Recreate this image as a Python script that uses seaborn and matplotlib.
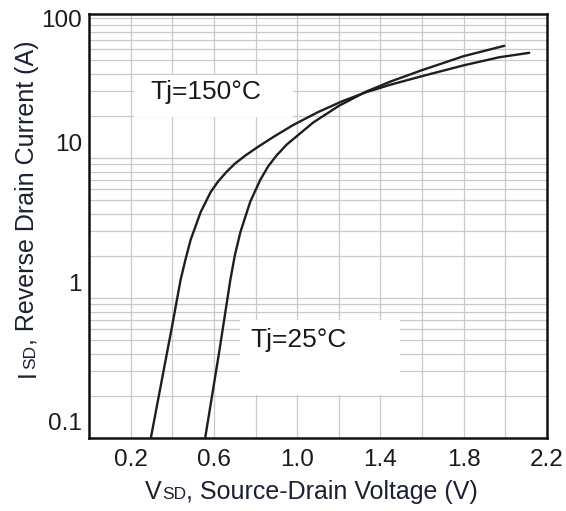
import numpy as np
import pandas as pd
import matplotlib
matplotlib.use("Agg")
import matplotlib.pyplot as plt
import matplotlib.transforms as mtrans
from matplotlib.patches import Rectangle
from matplotlib.ticker import FixedLocator, LogLocator, NullFormatter
import seaborn as sns

# ---- data ----
v_150 = [0.297, 0.368, 0.40, 0.44, 0.464, 0.488, 0.536, 0.584, 0.62, 0.66, 0.70, 0.75, 0.807,
         0.887, 0.98, 1.10, 1.22, 1.33, 1.45, 1.60, 1.80, 1.97, 2.115]
i_150 = [0.10, 0.36, 0.64, 1.35, 1.9, 2.6, 4.1, 5.7, 6.8, 7.95, 9.1, 10.4, 11.9,
         14.2, 17.2, 21.3, 25.6, 29.5, 33.5, 38.5, 46.0, 52.5, 56.5]
v_25 = [0.558, 0.624, 0.679, 0.70, 0.727, 0.775, 0.823, 0.86, 0.90, 0.95, 1.014, 1.078,
        1.20, 1.33, 1.45, 1.60, 1.80, 1.995]
i_25 = [0.10, 0.40, 1.35, 2.0, 2.95, 4.9, 7.0, 8.7, 10.4, 12.5, 15.0, 18.0,
        23.6, 29.8, 35.3, 42.5, 53.5, 63.4]
series_names = ["Tj=150°C", "Tj=25°C"]
x_major = [0.2, 0.6, 1.0, 1.4, 1.8, 2.2]
x_major_labels = ["0.2", "0.6", "1.0", "1.4", "1.8", "2.2"]
x_minor = [0.4, 0.8, 1.2, 1.6, 2.0]
y_major = [0.1, 1, 10, 100]
y_major_labels = ["0.1", "1", "10", "100"]

df = pd.concat([
    pd.DataFrame({"V": v_150, "I": i_150, "series": series_names[0]}),
    pd.DataFrame({"V": v_25, "I": i_25, "series": series_names[1]}),
], ignore_index=True)

sns.set_theme(style="white")
plt.rcParams['font.family'] = ['Liberation Sans', 'DejaVu Sans']

W, H = 566, 511
fig = plt.figure(figsize=(W / 100, H / 100), dpi=100)
ax = fig.add_axes([89 / W, 1 - 438 / H, (547 - 89) / W, (438 - 14) / H])

line_col = "#1e1e1e"
sns.lineplot(data=df, x="V", y="I", hue="series",
             palette={series_names[0]: line_col, series_names[1]: line_col},
             estimator=None, sort=False, legend=False, lw=1.7, ax=ax, zorder=3)
for ln in ax.get_lines():
    ln.set_solid_joinstyle("round")
    ln.set_solid_capstyle("round")

ax.set_yscale("log")
ax.set_xlim(0, 2.2)
ax.set_ylim(0.1, 107)

ax.xaxis.set_major_locator(FixedLocator(x_major))
ax.xaxis.set_minor_locator(FixedLocator(x_minor))
ax.set_xticklabels(x_major_labels)
ax.yaxis.set_major_locator(FixedLocator(y_major))
ax.yaxis.set_minor_locator(LogLocator(base=10, subs=[2, 3, 4, 5, 6, 7, 8, 9], numticks=20))
ax.yaxis.set_minor_formatter(NullFormatter())
ax.set_yticklabels(y_major_labels)

ax.set_axisbelow(True)
ax.grid(which="both", color="#c9c9c9", lw=0.9)
for s in ax.spines.values():
    s.set_visible(True)
    s.set_color("#111111")
    s.set_linewidth(1.8)

txt_col = "#1a1a1a"
ax.tick_params(which="both", length=0, labelsize=17.5, colors=txt_col)
ax.tick_params(axis="x", pad=8)
ax.tick_params(axis="y", pad=5)
ax.set_xlabel("")
ax.set_ylabel("")

# y tick labels in the reference sit above their grid lines (except the top one)
shift = mtrans.ScaledTranslation(0, 16 / 100, fig.dpi_scale_trans)
for lab in ax.get_yticklabels():
    if lab.get_text() != "100":
        lab.set_transform(lab.get_transform() + shift)

# white boxes behind the annotations (grid hidden there)
ax.add_patch(Rectangle((0.215, 19.6), 0.98 - 0.215, 39.1 - 19.6, facecolor="white",
                       edgecolor="none", zorder=1))
ax.add_patch(Rectangle((0.727, 0.203), 1.493 - 0.727, 0.70 - 0.203, facecolor="white",
                       edgecolor="none", zorder=1))
ax.text(0.56, 29.6, series_names[0], fontsize=19, color=txt_col, ha="center", va="center", zorder=4)
ax.text(1.005, 0.50, series_names[1], fontsize=19, color=txt_col, ha="center", va="center", zorder=4)

# axis labels with small "SD"
lab_col = "#1c2033"
fs_big, fs_small = 18, 12.5
dd = 0.21 * (fs_big - fs_small)

x1 = fig.text(145 / W, 1 - 499 / H, "V", fontsize=fs_big, color=lab_col, ha="left", va="baseline")
x2 = ax.annotate("SD", xy=(1, 0), xycoords=x1, xytext=(0.5, dd), textcoords="offset points",
                 fontsize=fs_small, color=lab_col, ha="left", va="bottom", annotation_clip=False)
x3 = ax.annotate(", Source-Drain Voltage (V)", xy=(1, 0), xycoords=(x2, x1),
                 fontsize=fs_big, color=lab_col, ha="left", va="bottom", annotation_clip=False)

y1 = fig.text(34.5 / W, 1 - 377 / H, "I", fontsize=fs_big, color=lab_col, rotation=90,
              rotation_mode="anchor", ha="left", va="baseline")
y2 = ax.annotate("SD", xy=(1, 1), xycoords=y1, xytext=(-dd, 0.5), textcoords="offset points",
                 fontsize=fs_small, color=lab_col, rotation=90, ha="right", va="bottom",
                 annotation_clip=False)
y3 = ax.annotate(", Reverse Drain Current (A)", xy=(1, 1), xycoords=(y1, y2),
                 fontsize=fs_big, color=lab_col, rotation=90, ha="right", va="bottom",
                 annotation_clip=False)

fig.savefig("out.png", dpi=100, facecolor="white")
